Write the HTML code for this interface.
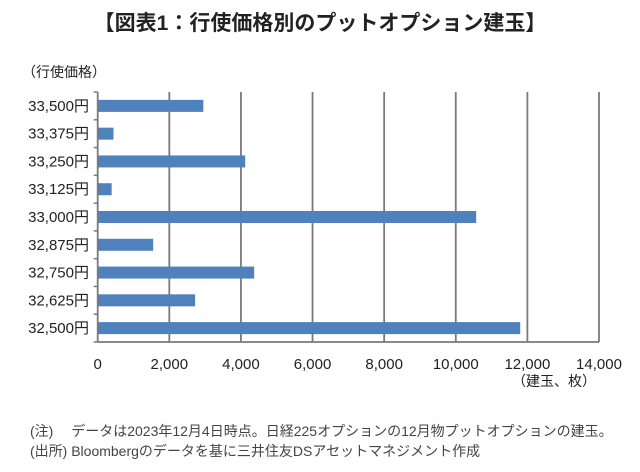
<!DOCTYPE html>
<html><head><meta charset="utf-8"><style>
body{margin:0;background:#fff;width:640px;height:467px;overflow:hidden;font-family:"Liberation Sans","Noto Sans CJK JP",sans-serif}
</style></head><body>
<svg width="640" height="467" xmlns="http://www.w3.org/2000/svg" font-family="Liberation Sans, Noto Sans CJK JP, sans-serif">
<text x="320" y="30" text-anchor="middle" font-size="21" font-weight="bold" fill="#222">【図表1：行使価格別のプットオプション建玉】</text>
<text x="22" y="77" font-size="14" fill="#222">（行使価格）</text>
<text x="596" y="386" text-anchor="end" font-size="14" fill="#222">（建玉、枚）</text>
<text x="30" y="436" font-size="14" fill="#444">(注)　 データは2023年12月4日時点。日経225オプションの12月物プットオプションの建玉。</text>
<text x="30" y="456" font-size="14" fill="#444">(出所)  Bloombergのデータを基に三井住友DSアセットマネジメント作成</text>
<g id="plot"></g>
</svg>
<script>
const categories=["33,500円","33,375円","33,250円","33,125円","33,000円","32,875円","32,750円","32,625円","32,500円"];
const values=[2950,440,4120,390,10570,1550,4370,2720,11800];
const xTicks=[0,2000,4000,6000,8000,10000,12000,14000];
const x0=97.7,x1=599,yTop=92,yBot=342,xMax=14000;
const X=v=>x0+(v/xMax)*(x1-x0);
const band=(yBot-yTop)/categories.length;
const g=document.getElementById('plot');
const NS="http://www.w3.org/2000/svg";
function mk(t,a){const e=document.createElementNS(NS,t);for(const k in a)e.setAttribute(k,a[k]);g.appendChild(e);return e;}
xTicks.forEach(t=>{
  if(t>0){const l=mk('line',{x1:X(t),x2:X(t),y1:yTop,y2:yBot,stroke:'#7a7a7a','stroke-width':1.8});
  
  }
  const tx=mk('text',{x:X(t),y:369,'text-anchor':'middle','font-size':15,fill:'#222'});
  tx.textContent=t.toLocaleString('en-US');
  
  
});
for(let i=0;i<=categories.length;i++){
  const y=yTop+i*band;
  const l=mk('line',{x1:x0-4,x2:x0,y1:y,y2:y,stroke:'#7a7a7a','stroke-width':1.5});
  
  
}
categories.forEach((c,i)=>{
  const yc=yTop+(i+0.5)*band;
  const r=mk('rect',{x:x0,y:yc-6,width:X(values[i])-x0,height:12,fill:'#4f81bd'});
  
  
  const t=mk('text',{x:89,y:yc+5,'text-anchor':'end','font-size':15,fill:'#222'});
  t.textContent=c;
  
  
});
const ax=mk('line',{x1:x0,x2:x0,y1:yTop,y2:yBot,stroke:'#7a7a7a','stroke-width':1.8});


const bx=mk('line',{x1:x0,x2:x1,y1:yBot,y2:yBot,stroke:'#7a7a7a','stroke-width':1.8});


</script>
</body></html>
